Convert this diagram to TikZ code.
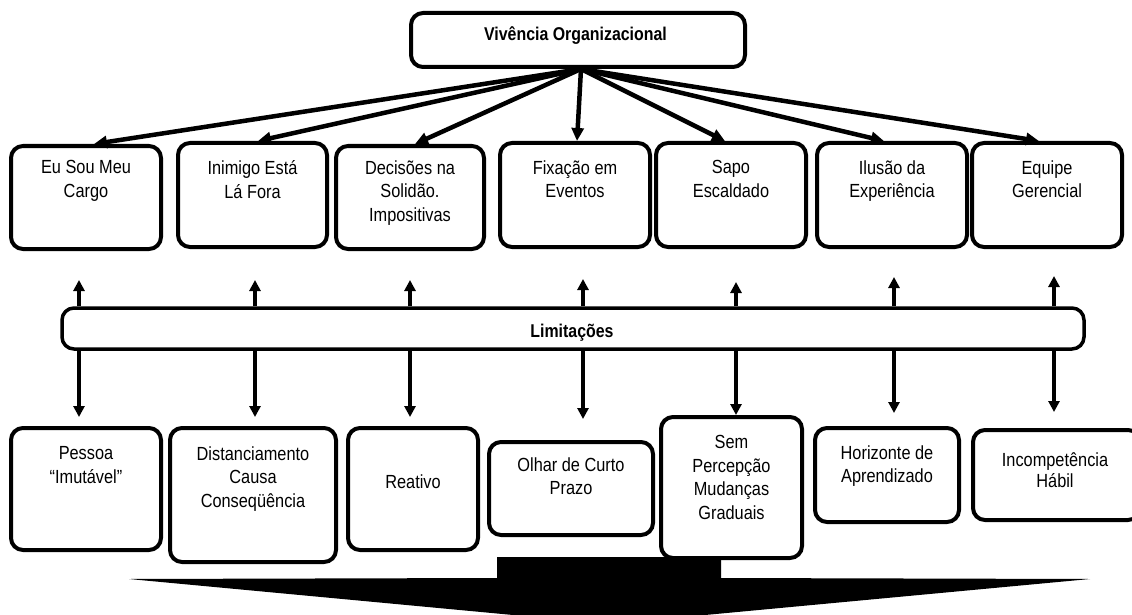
\documentclass[tikz,border=0pt]{standalone}
\usepackage{fontspec}
\setmainfont[FakeStretch=0.86]{Liberation Sans}
\usetikzlibrary{arrows.meta}
\begin{document}
\begin{tikzpicture}[x=1pt,y=-1pt,
  box/.style={draw, line width=4pt, rounded corners=12pt, fill=white, inner sep=0pt},
  lbl/.style={inner sep=0pt, align=center, font=\fontsize{19}{23.5}\selectfont, execute at begin node=\strut},
  ttl/.style={inner sep=0pt, font=\fontsize{18.5}{22}\selectfont\bfseries},
  fanarr/.style={line width=4.5pt, -{Triangle[length=13pt,width=12pt]}},
  varr/.style={line width=3.2pt, -{Triangle[length=11pt,width=11pt]}},
  bigarrow/.style={fill=black, draw=none}]
\useasboundingbox (0,0) rectangle (1132,615);
\clip (0,0) rectangle (1132,615);

% big arrow at the bottom
\path[bigarrow] (497,557) -- (721,557) -- (721,578) -- (1090,579) -- (609,624) -- (129,579) -- (497,578) -- cycle;

% top box
\node[box, minimum width=334pt, minimum height=54pt] (V) at (578,40) {};
\node[ttl, anchor=base] (Vt) at (575.5,41) {Vivência Organizacional};
\coordinate (fan) at (581,69);

% top row boxes
\node[box, minimum width=150pt, minimum height=103pt] (T1) at (86,197.5) {};
\node[box, minimum width=149pt, minimum height=104pt] (T2) at (252.5,195) {};
\node[box, minimum width=148pt, minimum height=103pt] (T3) at (410,197.5) {};
\node[box, minimum width=150pt, minimum height=104pt] (T4) at (575,195) {};
\node[box, minimum width=150pt, minimum height=104pt] (T5) at (731,195) {};
\node[box, minimum width=150pt, minimum height=104pt] (T6) at (892,195) {};
\node[box, minimum width=150pt, minimum height=104pt] (T7) at (1047,195) {};

\node[lbl, anchor=north] (T1t) at (86,160.5) {Eu Sou Meu\\Cargo};
\node[lbl, anchor=north] (T2t) at (252.5,160.5) {Inimigo Está\\Lá Fora};
\node[lbl, anchor=north] (T3t) at (410,160.5) {Decisões na\\Solidão.\\Impositivas};
\node[lbl, anchor=north] (T4t) at (575,160.5) {Fixação em\\Eventos};
\node[lbl, anchor=north] (T5t) at (731,160.5) {Sapo\\Escaldado};
\node[lbl, anchor=north] (T6t) at (892,160.5) {Ilusão da\\Experiência};
\node[lbl, anchor=north] (T7t) at (1047,160.5) {Equipe\\Gerencial};

% fan arrows
\draw[fanarr] (fan) -- ([xshift=8pt]T1.north);
\draw[fanarr] (fan) -- ([xshift=5.5pt]T2.north);
\draw[fanarr] (fan) -- ([xshift=5pt]T3.north);
\draw[fanarr] (fan) -- ([xshift=2pt]T4.north);
\draw[fanarr] (fan) -- ([xshift=-6pt]T5.north);
\draw[fanarr] (fan) -- ([xshift=-8pt]T6.north);
\draw[fanarr] (fan) -- ([xshift=-8pt]T7.north);

% limitations bar
\node[box, line width=3.5pt, minimum width=1022pt, minimum height=41pt] (bar) at (573,328.5) {};
\node[ttl, anchor=base] (bart) at (572,337) {Limitações};

% bottom row boxes
\node[box, minimum width=150pt, minimum height=122pt] (B1) at (86,489) {};
\node[box, minimum width=166pt, minimum height=134pt] (B2) at (253,495) {};
\node[box, minimum width=130pt, minimum height=122pt] (B3) at (413,489) {};
\node[box, minimum width=164pt, minimum height=93pt] (B4) at (571,488.5) {};
\node[box, minimum width=141pt, minimum height=141pt] (B5) at (731.5,487.5) {};
\node[box, minimum width=144pt, minimum height=94pt] (B6) at (887,475) {};
\node[box, minimum width=167pt, minimum height=90pt] (B7) at (1056.5,475) {};

\node[lbl, anchor=north] (B1t) at (86,446.5) {Pessoa\\“Imutável”};
\node[lbl, anchor=north] (B2t) at (253,446.5) {Distanciamento\\Causa\\Conseqüência};
\node[lbl, anchor=north] (B3t) at (413,471.5) {Reativo};
\node[lbl, anchor=north] (B4t) at (571,457.5) {Olhar de Curto\\Prazo};
\node[lbl, anchor=north] (B5t) at (731.5,435.5) {Sem\\Percepção\\Mudanças\\Graduais};
\node[lbl, anchor=north] (B6t) at (887,445.5) {Horizonte de\\Aprendizado};
\node[lbl, anchor=north, font=\fontsize{19}{21}\selectfont] (B7t) at (1055,452.3) {Incompetência\\Hábil};

% vertical arrows
\coordinate (u1) at (79,280);  \coordinate (d1) at (79,417);
\coordinate (u2) at (255,280); \coordinate (d2) at (255,417);
\coordinate (u3) at (410,280); \coordinate (d3) at (410,417);
\coordinate (u4) at (583,279); \coordinate (d4) at (583,419);
\coordinate (u5) at (736,282); \coordinate (d5) at (736,415);
\coordinate (u6) at (894,277); \coordinate (d6) at (894,413);
\coordinate (u7) at (1054,276); \coordinate (d7) at (1054,412);
\foreach \i in {1,...,7}{
  \draw[varr] (u\i |- bar.north) -- (u\i);
  \draw[varr] (d\i |- bar.south) -- (d\i);
}
\end{tikzpicture}
\end{document}
